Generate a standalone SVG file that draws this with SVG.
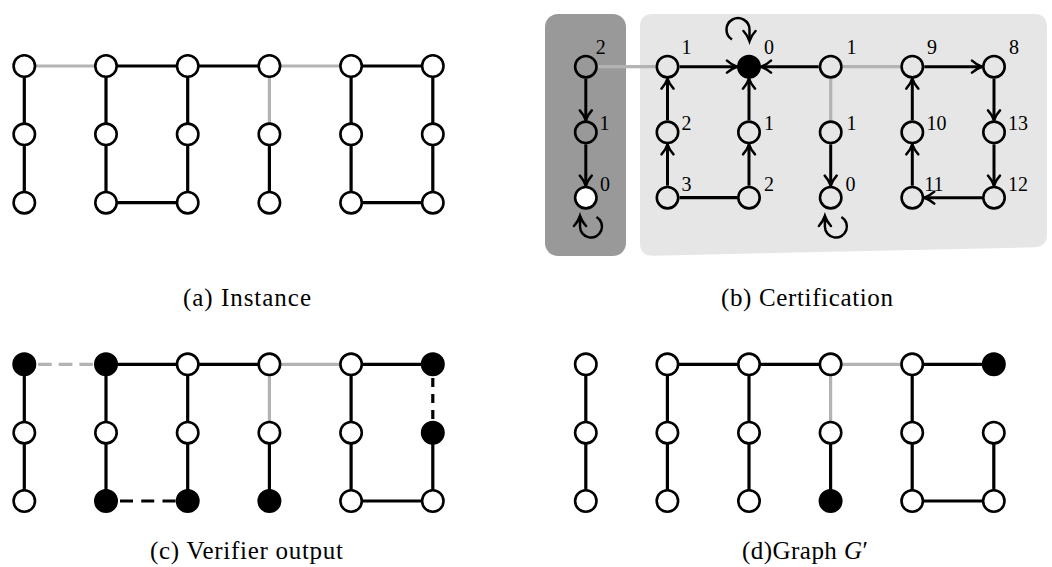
<svg xmlns="http://www.w3.org/2000/svg" width="1052" height="567" viewBox="0 0 1052 567">
<defs>
<style>
.n{fill:#fff;stroke:#000;stroke-width:2.6}
.f{fill:#000;stroke:#000;stroke-width:2.6}
.nl{fill:#e6e6e6;stroke:#000;stroke-width:2.6}
.nd{fill:#999;stroke:#000;stroke-width:2.6}
.e{fill:none;stroke:#000;stroke-width:3.2}
.g{fill:none;stroke:#b3b3b3;stroke-width:3.2}
.a{fill:none;stroke:#000;stroke-width:3;marker-end:url(#ar)}
.lp{fill:none;stroke:#000;stroke-width:2.5;marker-end:url(#ar)}
.lbl{font-family:"Liberation Serif",serif;font-size:20px;text-anchor:middle;fill:#000}
.cap{font-family:"Liberation Serif",serif;font-size:25px;fill:#000}
</style>
<marker id="ar" markerUnits="userSpaceOnUse" markerWidth="18" markerHeight="18" viewBox="-14 -9 18 18" refX="0" refY="0" orient="auto">
<path d="M-10,-6 C-6.5,-2.8 -2.8,-0.9 0,0 C-2.8,0.9 -6.5,2.8 -10,6" fill="none" stroke="#000" stroke-width="2.5" stroke-linecap="round"/>
</marker>
</defs>
<rect width="1052" height="567" fill="#fff"/>
<g id="boxes">
<rect x="545" y="14" width="81" height="242" rx="13" fill="#999"/>
<path d="M653,14 H1034 Q1047,14 1047,27 V234 Q1047,247 1034,247.3 L653,255.7 Q640,256 640,243 V27 Q640,14 653,14 Z" fill="#e6e6e6"/>
</g>
<g id="connectors">
<g id="conn-a">
<path class="e" d="M106,66 H269.4 M351.1,66 H432.8 M24.3,66 V202.7 M106,66 V202.7 H187.7 V66 M269.4,134.3 V202.7 M351.1,66 V202.7 H432.8 V66"/>
<path class="g" d="M24.3,66 H106 M269.4,66 H351.1 M269.4,66 V134.3"/>
</g>
<g id="conn-b">
<path class="g" d="M597.8,66.7 H655.5 M842.7,66.7 H900.3 M830.7,78.7 V120.3"/>
<path class="e" d="M679.5,197.7 H737"/>
<path class="a" d="M585.8,78.7 V120.3"/>
<path class="a" d="M585.8,144.3 V185.7"/>
<path class="a" d="M667.5,185.7 V144.3"/>
<path class="a" d="M667.5,120.3 V78.7"/>
<path class="a" d="M679.5,66.7 H737"/>
<path class="a" d="M749,185.7 V144.3"/>
<path class="a" d="M749,120.3 V78.7"/>
<path class="a" d="M818.7,66.7 H761"/>
<path class="a" d="M830.7,144.3 V185.7"/>
<path class="a" d="M912.3,185.7 V144.3"/>
<path class="a" d="M912.3,120.3 V78.7"/>
<path class="a" d="M924.3,66.7 H982"/>
<path class="a" d="M994,78.7 V120.3"/>
<path class="a" d="M994,144.3 V185.7"/>
<path class="a" d="M982,197.7 H924.3"/>
<path class="lp" d="M732,39.5 A11.5,11.5 0 1 1 749.5,29.5 L749.5,41"/>
<path class="lp" d="M596.5,217 A11,11 0 1 1 580,226.5 L580,216"/>
<path class="lp" d="M841.4,217 A11,11 0 1 1 824.9,226.5 L824.9,216"/>
</g>
<g id="conn-c">
<path class="e" d="M106,364.3 H269.4 M351.1,364.3 H432.8 M24.3,364.3 V501 M106,364.3 V501 M187.7,364.3 V501 M269.4,432.7 V501 M351.1,364.3 V501 H432.8 V432.7"/>
<path class="g" d="M269.4,364.3 H351.1 M269.4,364.3 V432.7"/>
<path class="g" stroke-width="3.6" stroke-dasharray="13.7 7" d="M38,364.3 H93"/>
<path class="e" stroke-width="3.6" stroke-dasharray="13 8.25" d="M120,501 H175.5"/>
<path class="e" stroke-width="3.6" stroke-dasharray="9 7" d="M432.8,378 V419"/>
</g>
<g id="conn-d">
<path class="e" d="M667.4,364.3 H830.6 M912.2,364.3 H993.8 M585.8,364.3 V501 M667.4,364.3 V501 M749,364.3 V501 M830.6,432.7 V501 M912.2,364.3 V501 H993.8 V432.7"/>
<path class="g" d="M830.6,364.3 H912.2 M830.6,364.3 V432.7"/>
</g>
</g>
<g id="nodes-a">
<g id="a00"><circle class="n" cx="24.3" cy="66" r="10.7"/></g>
<g id="a01"><circle class="n" cx="24.3" cy="134.3" r="10.7"/></g>
<g id="a02"><circle class="n" cx="24.3" cy="202.7" r="10.7"/></g>
<g id="a10"><circle class="n" cx="106" cy="66" r="10.7"/></g>
<g id="a11"><circle class="n" cx="106" cy="134.3" r="10.7"/></g>
<g id="a12"><circle class="n" cx="106" cy="202.7" r="10.7"/></g>
<g id="a20"><circle class="n" cx="187.7" cy="66" r="10.7"/></g>
<g id="a21"><circle class="n" cx="187.7" cy="134.3" r="10.7"/></g>
<g id="a22"><circle class="n" cx="187.7" cy="202.7" r="10.7"/></g>
<g id="a30"><circle class="n" cx="269.4" cy="66" r="10.7"/></g>
<g id="a31"><circle class="n" cx="269.4" cy="134.3" r="10.7"/></g>
<g id="a32"><circle class="n" cx="269.4" cy="202.7" r="10.7"/></g>
<g id="a40"><circle class="n" cx="351.1" cy="66" r="10.7"/></g>
<g id="a41"><circle class="n" cx="351.1" cy="134.3" r="10.7"/></g>
<g id="a42"><circle class="n" cx="351.1" cy="202.7" r="10.7"/></g>
<g id="a50"><circle class="n" cx="432.8" cy="66" r="10.7"/></g>
<g id="a51"><circle class="n" cx="432.8" cy="134.3" r="10.7"/></g>
<g id="a52"><circle class="n" cx="432.8" cy="202.7" r="10.7"/></g>
</g>
<g id="nodes-b" font-family="Liberation Serif, serif">
<g id="b00"><circle class="nd" cx="585.8" cy="66.7" r="10.7"/><text class="lbl" x="600.7" y="54.3">2</text></g>
<g id="b01"><circle class="nd" cx="585.8" cy="132.3" r="10.7"/><text class="lbl" x="604.5" y="130">1</text></g>
<g id="b02"><circle class="n" cx="585.8" cy="197.7" r="10.7"/><text class="lbl" x="605" y="190.5">0</text></g>
<g id="b10"><circle class="nl" cx="667.5" cy="66.7" r="10.7"/><text class="lbl" x="686.5" y="54.3">1</text></g>
<g id="b11"><circle class="nl" cx="667.5" cy="132.3" r="10.7"/><text class="lbl" x="686.5" y="130">2</text></g>
<g id="b12"><circle class="nl" cx="667.5" cy="197.7" r="10.7"/><text class="lbl" x="686.5" y="190.5">3</text></g>
<g id="b20"><circle class="f" cx="749" cy="66.7" r="10.7"/><text class="lbl" x="769" y="54.3">0</text></g>
<g id="b21"><circle class="nl" cx="749" cy="132.3" r="10.7"/><text class="lbl" x="769" y="130">1</text></g>
<g id="b22"><circle class="nl" cx="749" cy="197.7" r="10.7"/><text class="lbl" x="769" y="190.5">2</text></g>
<g id="b30"><circle class="nl" cx="830.7" cy="66.7" r="10.7"/><text class="lbl" x="851.5" y="54">1</text></g>
<g id="b31"><circle class="nl" cx="830.7" cy="132.3" r="10.7"/><text class="lbl" x="851.5" y="130">1</text></g>
<g id="b32"><circle class="nl" cx="830.7" cy="197.7" r="10.7"/><text class="lbl" x="850.5" y="190.5">0</text></g>
<g id="b40"><circle class="nl" cx="912.3" cy="66.7" r="10.7"/><text class="lbl" x="932" y="54">9</text></g>
<g id="b41"><circle class="nl" cx="912.3" cy="132.3" r="10.7"/><text class="lbl" x="936.5" y="130">10</text></g>
<g id="b42"><circle class="nl" cx="912.3" cy="197.7" r="10.7"/><text class="lbl" x="934" y="190.5">11</text></g>
<g id="b50"><circle class="nl" cx="994" cy="66.7" r="10.7"/><text class="lbl" x="1014" y="54">8</text></g>
<g id="b51"><circle class="nl" cx="994" cy="132.3" r="10.7"/><text class="lbl" x="1018" y="130">13</text></g>
<g id="b52"><circle class="nl" cx="994" cy="197.7" r="10.7"/><text class="lbl" x="1018" y="190.5">12</text></g>
</g>
<g id="nodes-c">
<g id="c00"><circle class="f" cx="24.3" cy="364.3" r="10.7"/></g>
<g id="c01"><circle class="n" cx="24.3" cy="432.7" r="10.7"/></g>
<g id="c02"><circle class="n" cx="24.3" cy="501" r="10.7"/></g>
<g id="c10"><circle class="f" cx="106" cy="364.3" r="10.7"/></g>
<g id="c11"><circle class="n" cx="106" cy="432.7" r="10.7"/></g>
<g id="c12"><circle class="f" cx="106" cy="501" r="10.7"/></g>
<g id="c20"><circle class="n" cx="187.7" cy="364.3" r="10.7"/></g>
<g id="c21"><circle class="n" cx="187.7" cy="432.7" r="10.7"/></g>
<g id="c22"><circle class="f" cx="187.7" cy="501" r="10.7"/></g>
<g id="c30"><circle class="n" cx="269.4" cy="364.3" r="10.7"/></g>
<g id="c31"><circle class="n" cx="269.4" cy="432.7" r="10.7"/></g>
<g id="c32"><circle class="f" cx="269.4" cy="501" r="10.7"/></g>
<g id="c40"><circle class="n" cx="351.1" cy="364.3" r="10.7"/></g>
<g id="c41"><circle class="n" cx="351.1" cy="432.7" r="10.7"/></g>
<g id="c42"><circle class="n" cx="351.1" cy="501" r="10.7"/></g>
<g id="c50"><circle class="f" cx="432.8" cy="364.3" r="10.7"/></g>
<g id="c51"><circle class="f" cx="432.8" cy="432.7" r="10.7"/></g>
<g id="c52"><circle class="n" cx="432.8" cy="501" r="10.7"/></g>
</g>
<g id="nodes-d">
<g id="d00"><circle class="n" cx="585.8" cy="364.3" r="10.7"/></g>
<g id="d01"><circle class="n" cx="585.8" cy="432.7" r="10.7"/></g>
<g id="d02"><circle class="n" cx="585.8" cy="501" r="10.7"/></g>
<g id="d10"><circle class="n" cx="667.4" cy="364.3" r="10.7"/></g>
<g id="d11"><circle class="n" cx="667.4" cy="432.7" r="10.7"/></g>
<g id="d12"><circle class="n" cx="667.4" cy="501" r="10.7"/></g>
<g id="d20"><circle class="n" cx="749" cy="364.3" r="10.7"/></g>
<g id="d21"><circle class="n" cx="749" cy="432.7" r="10.7"/></g>
<g id="d22"><circle class="n" cx="749" cy="501" r="10.7"/></g>
<g id="d30"><circle class="n" cx="830.6" cy="364.3" r="10.7"/></g>
<g id="d31"><circle class="n" cx="830.6" cy="432.7" r="10.7"/></g>
<g id="d32"><circle class="f" cx="830.6" cy="501" r="10.7"/></g>
<g id="d40"><circle class="n" cx="912.2" cy="364.3" r="10.7"/></g>
<g id="d41"><circle class="n" cx="912.2" cy="432.7" r="10.7"/></g>
<g id="d42"><circle class="n" cx="912.2" cy="501" r="10.7"/></g>
<g id="d50"><circle class="f" cx="993.8" cy="364.3" r="10.7"/></g>
<g id="d51"><circle class="n" cx="993.8" cy="432.7" r="10.7"/></g>
<g id="d52"><circle class="n" cx="993.8" cy="501" r="10.7"/></g>
</g>
<g id="captions" font-family="Liberation Serif, serif">
<text class="cap" x="183" y="305.5" textLength="128" lengthAdjust="spacing">(a) Instance</text>
<text class="cap" x="721" y="305.5" textLength="172" lengthAdjust="spacing">(b) Certification</text>
<text class="cap" x="150" y="558.5" textLength="193" lengthAdjust="spacing">(c) Verifier output</text>
<text class="cap" x="742" y="558.5" textLength="126" lengthAdjust="spacing">(d)Graph <tspan font-style="italic">G</tspan>′</text>
</g>
</svg>
